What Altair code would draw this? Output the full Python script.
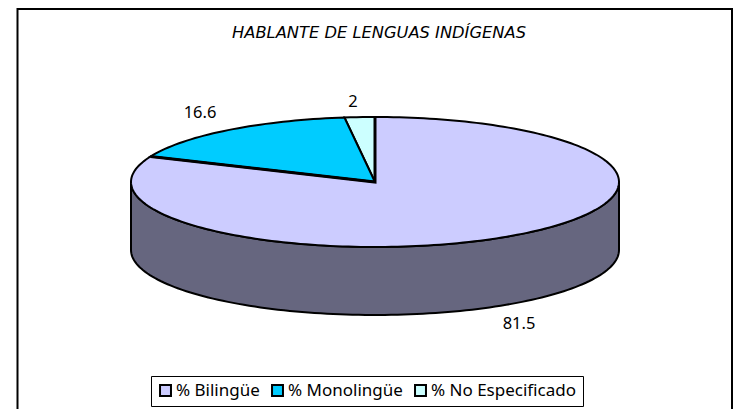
import numpy as np
import pandas as pd
import altair as alt

categories = ["% Bilingüe", "% Monolingüe", "% No Especificado"]
values = [81.5, 16.6, 2]
colors = ["#CCCCFF", "#00CCFF", "#CCFFFF"]
side_color = "#66667F"
title_text = "HABLANTE DE LENGUAS INDÍGENAS"
FONT = "Noto Sans"
TITLE_FONT = "DejaVu Sans"

W, H = 725, 401
DEPTH = 68 / 65  # wall height in units of the ellipse's vertical radius
total = sum(values)

# Slices run counter-clockwise from 12 o'clock, smallest last in the drawing order
order = [2, 1, 0]
rows, edges, start = [], [], 0.0
for k in order:
    sweep = values[k] / total * 2 * np.pi
    th = np.linspace(start, start + sweep, max(int(sweep * 40), 6))
    pts = [(0.0, 0.0)] + [(-np.sin(t), np.cos(t)) for t in th] + [(0.0, 0.0)]
    for i, (px, py) in enumerate(pts):
        rows.append({"cat": categories[k], "px": px, "py": py, "i": i, "rank": k})
    if k == 0:
        # the two radii bounding the large slice are drawn heavier
        edges = [(-np.sin(th[0]), np.cos(th[0])), (0.0, 0.0), (-np.sin(th[-1]), np.cos(th[-1]))]
    start += sweep
wedges = pd.DataFrame(rows)
edge_df = pd.DataFrame([{"px": a, "py": b, "i": i} for i, (a, b) in enumerate(edges)])

front = np.linspace(np.pi / 2, 3 * np.pi / 2, 120)
side_pts = [(np.sin(t), np.cos(t)) for t in front] + \
           [(np.sin(t), np.cos(t) - DEPTH) for t in front[::-1]]
side_pts.append(side_pts[0])
side = pd.DataFrame([{"px": a, "py": b, "i": i} for i, (a, b) in enumerate(side_pts)])

xs = alt.X("px:Q", axis=None, scale=alt.Scale(domain=[-1, 1], range=[123, 611]))
ys = alt.Y("py:Q", axis=None, scale=alt.Scale(domain=[1, -1], range=[109, 239]))

side_layer = alt.Chart(side).mark_line(
    fill=side_color, stroke="black", strokeWidth=2
).encode(x=xs, y=ys, order="i:Q")

wedge_layer = alt.Chart(wedges).mark_line(
    filled=True, stroke="black", strokeWidth=2, strokeJoin="miter"
).encode(
    x=xs, y=ys, order="i:Q",
    fill=alt.Fill(
        "cat:N",
        scale=alt.Scale(domain=categories, range=colors),
        legend=alt.Legend(
            title=None, orient="none", legendX=143, legendY=368,
            direction="horizontal", columns=3, columnPadding=8,
            symbolType="square", symbolSize=120, symbolStrokeColor="black",
            symbolStrokeWidth=2, symbolOffset=0,
            labelFont=FONT, labelFontSize=17, labelColor="black", labelOffset=2,
            strokeColor="black", fillColor="white", padding=6,
            cornerRadius=0,
        ),
    ),
    stroke=alt.value("black"),
    detail="cat:N",
)

edge_layer = alt.Chart(edge_df).mark_line(color="black", strokeWidth=3).encode(
    x=xs, y=ys, order="i:Q"
)

labels = pd.DataFrame({
    "t": [str(v) for v in values],
    "lx": [511, 192, 345],
    "ly": [316, 105, 94],
})
label_layer = alt.Chart(labels).mark_text(
    font=FONT, fontSize=16.5, color="black", align="center", baseline="middle"
).encode(x=alt.X("lx:Q", scale=None), y=alt.Y("ly:Q", scale=None), text="t:N")

title_layer = alt.Chart(pd.DataFrame({"t": [title_text]})).mark_text(
    font=TITLE_FONT, fontSize=16.3, fontStyle="italic", color="black", align="center", baseline="middle"
).encode(x=alt.value(371), y=alt.value(25), text="t:N")

left = alt.Chart(pd.DataFrame({"a": [0]})).mark_rule(color="black", strokeWidth=2).encode(
    x=alt.value(9.5), y=alt.value(0), y2=alt.value(H))
right = alt.Chart(pd.DataFrame({"a": [0]})).mark_rule(color="black", strokeWidth=2).encode(
    x=alt.value(724), y=alt.value(0), y2=alt.value(H))
top = alt.Chart(pd.DataFrame({"a": [0]})).mark_rule(color="black", strokeWidth=2).encode(
    x=alt.value(9), x2=alt.value(725), y=alt.value(1))

chart = alt.layer(left, right, top, side_layer, wedge_layer, edge_layer, label_layer, title_layer).properties(
    width=W, height=H, padding=0, autosize=alt.AutoSizeParams(type="none"),
    background="white",
).configure_view(stroke=None).resolve_scale(x="shared", y="shared")

chart.save("out.html", embed_options={"renderer": "svg", "actions": False})
